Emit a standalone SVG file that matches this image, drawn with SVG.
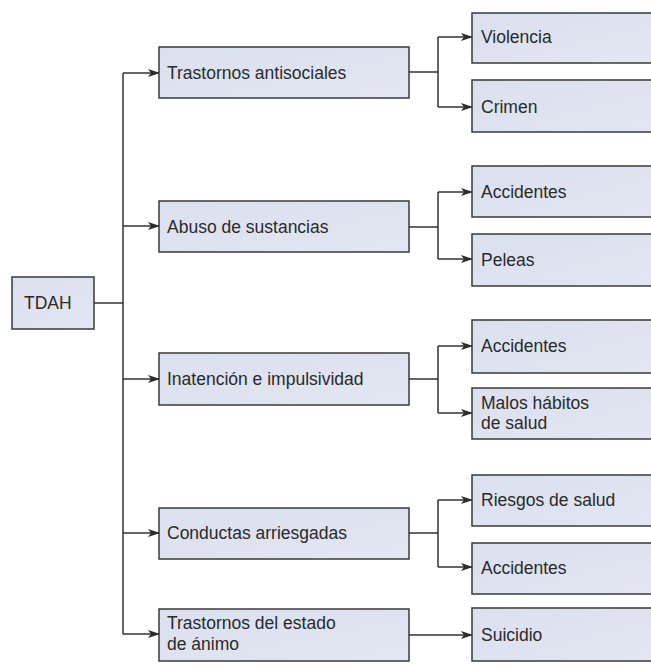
<svg xmlns="http://www.w3.org/2000/svg" width="651" height="668" viewBox="0 0 651 668">
<defs>
<marker id="ah" markerWidth="12" markerHeight="8" refX="11" refY="4" orient="auto" markerUnits="userSpaceOnUse">
<path d="M0,0 L12,4 L0,8 L3,4 Z" fill="#2b2b2b"/>
</marker>
<linearGradient id="bg" x1="0" y1="0" x2="1" y2="1">
<stop offset="0" stop-color="#dbe0ef"/>
<stop offset="1" stop-color="#e3e6f2"/>
</linearGradient>
</defs>
<style>
.box{fill:url(#bg);stroke:#3a3a3a;stroke-width:1.5}
.t{font-family:"Liberation Sans",Arial,sans-serif;font-size:17.5px;fill:#2a2a2a}
.c{fill:none;stroke:#333;stroke-width:1.5}
.a{fill:none;stroke:#333;stroke-width:1.5;marker-end:url(#ah)}
</style>
<rect width="651" height="668" fill="#ffffff"/>
<g id="connectors">
<path class="c" d="M94,303 H123"/>
<path class="c" d="M123,73 V634"/>
<path class="a" d="M123,73 H159"/>
<path class="a" d="M123,226 H159"/>
<path class="a" d="M123,379 H159"/>
<path class="a" d="M123,533 H159"/>
<path class="a" d="M123,634 H159"/>
<path class="c" d="M409,72 H438 M438,37 V107"/>
<path class="a" d="M438,37 H472"/>
<path class="a" d="M438,107 H472"/>
<path class="c" d="M409,227 H438 M438,192 V259"/>
<path class="a" d="M438,192 H472"/>
<path class="a" d="M438,259 H472"/>
<path class="c" d="M409,379 H438 M438,346 V413"/>
<path class="a" d="M438,346 H472"/>
<path class="a" d="M438,413 H472"/>
<path class="c" d="M409,533 H438 M438,500 V567"/>
<path class="a" d="M438,500 H472"/>
<path class="a" d="M438,567 H472"/>
<path class="a" d="M409,635 H472"/>
</g>
<g id="tdah"><rect class="box" x="12" y="277" width="82" height="52"/><text class="t" x="24" y="309">TDAH</text></g>
<g id="antisociales"><rect class="box" x="159" y="47" width="250" height="51"/><text class="t" x="167" y="79">Trastornos antisociales</text></g>
<g id="abuso"><rect class="box" x="159" y="201" width="250" height="51"/><text class="t" x="167" y="233">Abuso de sustancias</text></g>
<g id="inatencion"><rect class="box" x="159" y="353" width="250" height="52"/><text class="t" x="167" y="385">Inatención e impulsividad</text></g>
<g id="conductas"><rect class="box" x="159" y="508" width="250" height="51"/><text class="t" x="167" y="539">Conductas arriesgadas</text></g>
<g id="animo"><rect class="box" x="159" y="609" width="250" height="52"/><text class="t" x="167" y="629">Trastornos del estado</text><text class="t" x="167" y="650">de ánimo</text></g>
<g id="violencia"><rect class="box" x="472" y="13" width="190" height="50"/><text class="t" x="481" y="43">Violencia</text></g>
<g id="crimen"><rect class="box" x="472" y="80" width="190" height="52"/><text class="t" x="481" y="113">Crimen</text></g>
<g id="accidentes1"><rect class="box" x="472" y="166" width="190" height="51"/><text class="t" x="481" y="198">Accidentes</text></g>
<g id="peleas"><rect class="box" x="472" y="234" width="190" height="52"/><text class="t" x="481" y="266">Peleas</text></g>
<g id="accidentes2"><rect class="box" x="472" y="320" width="190" height="53"/><text class="t" x="481" y="352">Accidentes</text></g>
<g id="malos"><rect class="box" x="472" y="388" width="190" height="51"/><text class="t" x="481" y="409">Malos hábitos</text><text class="t" x="481" y="429">de salud</text></g>
<g id="riesgos"><rect class="box" x="472" y="475" width="190" height="51"/><text class="t" x="481" y="506">Riesgos de salud</text></g>
<g id="accidentes3"><rect class="box" x="472" y="543" width="190" height="51"/><text class="t" x="481" y="574">Accidentes</text></g>
<g id="suicidio"><rect class="box" x="472" y="608" width="190" height="53"/><text class="t" x="481" y="641">Suicidio</text></g>
</svg>
